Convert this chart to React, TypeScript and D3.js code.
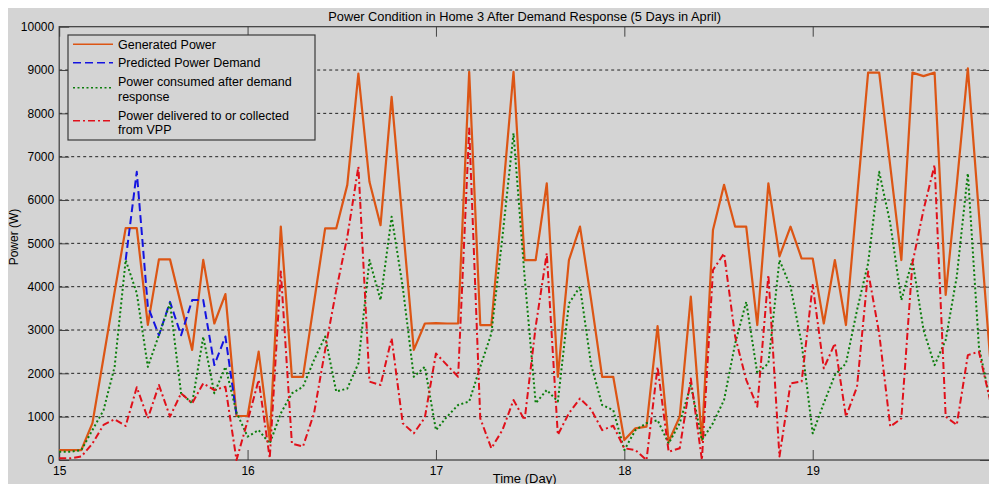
import React, { useEffect, useRef } from "react";
import * as d3 from "d3";

// samples: 17 per day, starting at day 15
const times = d3.range(85).map((k) => 15 + k / 17);

const generated = [
  230, 230, 230, 850, 2360, 3880, 5350, 5350, 3120, 4630, 4630, 3580, 2540, 4620, 3150, 3830, 1020,
  1015, 2500, 460, 5385, 1920, 1920, 3640, 5345, 5345, 6350, 8920, 6420, 5420, 8380, 5460, 2540,
  3150, 3160, 3150, 3150, 8960, 3115, 3115, 6020, 8960, 4615, 4615, 6385, 1920, 4615, 5385, 3700,
  1920, 1920, 460, 730, 770, 3090, 420, 1000, 3770, 460, 5310, 6350, 5385, 5385, 3115, 6385, 4700,
  5385, 4650, 4650, 3150, 4615, 3115, 6040, 8940, 8940, 6780, 4615, 8940, 8860, 8940, 3810, 6350,
  9040, 5690, 2380,
];

// only shown where it differs from the consumed curve (first day)
const predicted: (number | null)[] = [
  null, null, null, null, null, null, 4620, 6650, 3540, 2880, 3650, 2880, 3690, 3690, 2190, 2850,
  1040,
];

const consumed = [
  190, 190, 230, 690, 1150, 2150, 4615, 3850, 2150, 2885, 3615, 1540, 1310, 2845, 1540, 2150, 1100,
  540, 690, 380, 1080, 1540, 1690, 2310, 2850, 1580, 1650, 2230, 4615, 3690, 5615, 4000, 1920,
  2150, 690, 1000, 1270, 1350, 2150, 2920, 5150, 7540, 4230, 1310, 1615, 1350, 3615, 4000, 2200,
  1270, 1150, 230, 690, 850, 920, 380, 850, 1730, 460, 850, 1385, 2690, 3650, 2000, 2230, 4615,
  4000, 2690, 615, 1310, 1960, 2230, 3460, 4540, 6650, 5460, 3690, 4615, 3000, 2190, 2770, 4230,
  6615, 2615, 1385,
];

const vpp = [
  40, 40, 80, 380, 810, 940, 785, 1680, 960, 1730, 1000, 1540, 1310, 1770, 1615, 1690, 0,
  900, 1850, 40, 4350, 380, 310, 1080, 2540, 3920, 5150, 6770, 1810, 1730, 2810, 850, 615,
  980, 2460, 2190, 1920, 7650, 960, 270, 690, 1385, 920, 3080, 4770, 580, 1080, 1420, 1170,
  690, 790, 270, 230, 0, 2150, 190, 270, 1880, 0, 4385, 4770, 2850, 1850, 1230, 4270, 80,
  1770, 1810, 4040, 2115, 2690, 1000, 1690, 4350, 2920, 770, 960, 4540, 5770, 6810, 1000, 810,
  2420, 2500, 1385,
];

const xTicks = [15, 16, 17, 18, 19];
const yTicks = [0, 1000, 2000, 3000, 4000, 5000, 6000, 7000, 8000, 9000, 10000];

const seriesDefs = [
  { name: "Generated Power", values: generated, color: "#dc5514", dash: null, width: 2.2 },
  { name: "Predicted Power Demand", values: predicted, color: "#1414e0", dash: "8,4", width: 2 },
  { name: "Power consumed after demand|response", values: consumed, color: "#0b7d0b", dash: "2,2.5", width: 2 },
  { name: "Power delivered to or collected|from VPP", values: vpp, color: "#e0101a", dash: "7,3,2,3", width: 2 },
];

const FONT = "'Liberation Sans', Arial, sans-serif";
const BG = "#d4d4d4";

function PowerChart() {
  const ref = useRef<SVGSVGElement | null>(null);

  useEffect(() => {
    const W = 989;
    const H = 484;
    const m = { left: 59.2, right: 990, top: 26.7, bottom: 460 };

    const svg = d3.select(ref.current);
    svg.selectAll("*").remove();

    // figure background (white strip on top/left like the original crop)
    svg.append("rect").attr("width", W).attr("height", H).attr("fill", "#fff");
    svg.append("rect").attr("x", 8).attr("y", 8).attr("width", W - 8).attr("height", H - 8).attr("fill", BG);

    const x = d3.scaleLinear().domain([15, 15 + 84 / 17]).range([m.left, m.right]);
    const y = d3.scaleLinear().domain([0, 10000]).range([m.bottom, m.top]);

    // grid
    svg.append("g")
      .selectAll("line")
      .data(yTicks.slice(1, -1))
      .enter()
      .append("line")
      .attr("x1", m.left)
      .attr("x2", m.right)
      .attr("y1", (d) => y(d))
      .attr("y2", (d) => y(d))
      .attr("stroke", "#222")
      .attr("stroke-width", 1)
      .attr("stroke-dasharray", "3,3");

    const styleAxis = (g: any) => {
      g.select(".domain").remove();
      g.selectAll(".tick line").attr("stroke", "#444");
      g.selectAll("text").attr("fill", "#000").style("font-family", FONT).style("font-size", "12px");
    };

    svg.append("g")
      .attr("transform", `translate(${m.left},0)`)
      .call(d3.axisLeft(y).tickValues(yTicks).tickSize(-10).tickPadding(5).tickFormat(d3.format("d")))
      .call(styleAxis);

    svg.append("g")
      .attr("transform", `translate(${m.right},0)`)
      .call(d3.axisRight(y).tickValues(yTicks).tickSize(-10).tickFormat(() => ""))
      .call(styleAxis);

    svg.append("g")
      .attr("transform", `translate(0,${m.bottom})`)
      .call(d3.axisBottom(x).tickValues(xTicks).tickSize(-10).tickPadding(6).tickFormat(d3.format("d")))
      .call(styleAxis);

    svg.append("g")
      .attr("transform", `translate(0,${m.top})`)
      .call(d3.axisTop(x).tickValues(xTicks).tickSize(-10).tickFormat(() => ""))
      .call(styleAxis);

    // box
    svg.append("rect")
      .attr("x", m.left)
      .attr("y", m.top)
      .attr("width", m.right - m.left)
      .attr("height", m.bottom - m.top)
      .attr("fill", "none")
      .attr("stroke", "#3a3a3a")
      .attr("stroke-width", 1.2);

    const plot = svg.append("g");
    seriesDefs.forEach((s) => {
      const line = d3
        .line<number | null>()
        .defined((d) => d != null)
        .x((d, i) => x(times[i]))
        .y((d) => y(d as number));
      plot.append("path")
        .datum(s.values)
        .attr("d", line)
        .attr("fill", "none")
        .attr("stroke", s.color)
        .attr("stroke-width", s.width)
        .attr("stroke-linejoin", "round")
        .attr("stroke-dasharray", s.dash);
    });

    // title and labels
    svg.append("text")
      .attr("x", (m.left + m.right) / 2)
      .attr("y", 20.5)
      .attr("text-anchor", "middle")
      .style("font-family", FONT)
      .style("font-size", "12.8px")
      .text("Power Condition in Home 3 After Demand Response (5 Days in April)");

    svg.append("text")
      .attr("x", (m.left + m.right) / 2)
      .attr("y", 482.5)
      .attr("text-anchor", "middle")
      .style("font-family", FONT)
      .style("font-size", "13px")
      .text("Time (Day)");

    svg.append("text")
      .attr("transform", `translate(17.5,237) rotate(-90)`)
      .attr("text-anchor", "middle")
      .style("font-family", FONT)
      .style("font-size", "12px")
      .text("Power (W)");

    // legend
    const lg = svg.append("g").attr("transform", "translate(68,35)");
    lg.append("rect")
      .attr("width", 247)
      .attr("height", 105)
      .attr("fill", BG)
      .attr("stroke", "#3a3a3a")
      .attr("stroke-width", 1.2);

    const rows = [
      { lineY: 9.3, textY: [9.3] },
      { lineY: 27.7, textY: [27.7] },
      { lineY: 52.7, textY: [46.7, 61.7] },
      { lineY: 85.7, textY: [81, 95] },
    ];
    seriesDefs.forEach((s, i) => {
      const r = rows[i];
      lg.append("line")
        .attr("x1", 5)
        .attr("x2", 45)
        .attr("y1", r.lineY)
        .attr("y2", r.lineY)
        .attr("stroke", s.color)
        .attr("stroke-width", s.width - 0.6)
        .attr("stroke-dasharray", s.dash);
      s.name.split("|").forEach((part, j) => {
        lg.append("text")
          .attr("x", 50)
          .attr("y", r.textY[j])
          .attr("dy", "0.35em")
          .style("font-family", FONT)
          .style("font-size", "12.5px")
          .text(part);
      });
    });
  }, []);

  return <svg ref={ref} width={989} height={484} style={{ display: "block" }} />;
}

export default function App() {
  useEffect(() => {
    document.body.style.margin = "0";
    document.body.style.overflow = "hidden";
  }, []);
  return <PowerChart />;
}
